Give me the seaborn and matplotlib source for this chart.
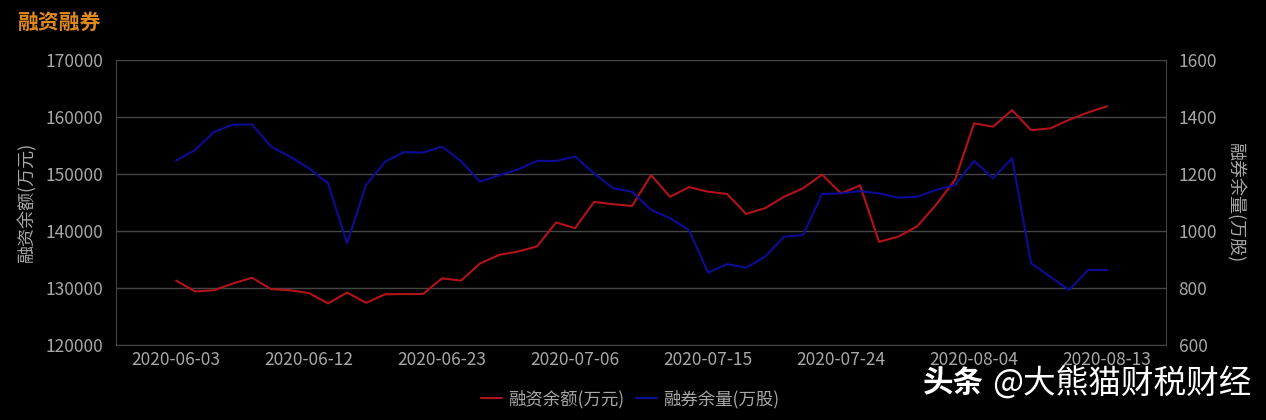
import pandas as pd
import numpy as np
import seaborn as sns
import matplotlib.pyplot as plt
from matplotlib.lines import Line2D

# trading days shown on the category axis
dates = ["2020-06-03", "2020-06-04", "2020-06-05", "2020-06-08", "2020-06-09",
         "2020-06-10", "2020-06-11", "2020-06-12", "2020-06-15", "2020-06-16",
         "2020-06-17", "2020-06-18", "2020-06-19", "2020-06-22", "2020-06-23",
         "2020-06-24", "2020-06-29", "2020-06-30", "2020-07-01", "2020-07-02",
         "2020-07-03", "2020-07-06", "2020-07-07", "2020-07-08", "2020-07-09",
         "2020-07-10", "2020-07-13", "2020-07-14", "2020-07-15", "2020-07-16",
         "2020-07-17", "2020-07-20", "2020-07-21", "2020-07-22", "2020-07-23",
         "2020-07-24", "2020-07-27", "2020-07-28", "2020-07-29", "2020-07-30",
         "2020-07-31", "2020-08-03", "2020-08-04", "2020-08-05", "2020-08-06",
         "2020-08-07", "2020-08-10", "2020-08-11", "2020-08-12", "2020-08-13"]

# 融资余额 (万元), left axis
rzye = [131300, 129400, 129600, 130800, 131800, 129800, 129600, 129100, 127300, 129200,
        127400, 128900, 128950, 128950, 131700, 131300, 134300, 135800, 136400, 137300,
        141500, 140500, 145100, 144700, 144400, 149800, 146000, 147700, 146900, 146500,
        143000, 144000, 146000, 147500, 149900, 146600, 148000, 138100, 139000, 140800,
        144600, 149000, 158900, 158300, 161200, 157700, 158000, 159500, 160800, 161900]

# 融券余量 (万股), right axis
rqyl = [1247, 1284, 1348, 1373, 1374, 1296, 1261, 1220, 1167, 957,
        1161, 1243, 1277, 1275, 1296, 1245, 1173, 1196, 1216, 1246,
        1246, 1261, 1202, 1150, 1138, 1074, 1045, 1003, 854, 884,
        871, 910, 980, 986, 1130, 1132, 1140, 1132, 1117, 1120,
        1144, 1161, 1246, 1185, 1255, 887, 840, 793, 863, 863]

df = pd.DataFrame({"idx": np.arange(len(dates)), "date": dates,
                   "rzye": rzye, "rqyl": rqyl})

sns.set_style("dark")
plt.rcParams['font.family'] = ['Noto Sans CJK SC', 'DejaVu Sans']

bg = "black"
gridc = "#454545"
txtc = "#a8a8a8"
red = "#b3121a"
blue = "#0c0c96"

fig = plt.figure(figsize=(12.66, 4.2), dpi=100, facecolor=bg)
ax = fig.add_axes([116/1266, 1 - 345/420, 1050/1266, 285/420])
ax.set_facecolor(bg)
ax2 = ax.twinx()

sns.lineplot(data=df, x="idx", y="rzye", ax=ax, color=red, linewidth=1.5, legend=False)
sns.lineplot(data=df, x="idx", y="rqyl", ax=ax2, color=blue, linewidth=1.5, legend=False)

ax.set_xlim(-3.16, 52.1)
ax.set_ylim(120000, 170000)
ax2.set_ylim(600, 1600)
ax.set_yticks(np.arange(120000, 170001, 10000))
ax2.set_yticks(np.arange(600, 1601, 200))
tick_pos = list(range(0, len(dates), 7))
ax.set_xticks(tick_pos)
ax.set_xticklabels([dates[i] for i in tick_pos])

ax.grid(axis="y", color=gridc, linewidth=1)
ax.grid(axis="x", visible=False)
ax2.grid(False)

for a in (ax, ax2):
    for s in a.spines.values():
        s.set_visible(False)
    a.tick_params(colors=txtc, labelsize=12.5, length=0, pad=9)
ax.tick_params(axis="x", pad=4)
ax.spines["left"].set_visible(True)
ax.spines["left"].set_color(gridc)
ax2.spines["right"].set_visible(True)
ax2.spines["right"].set_color(gridc)
ax.spines["bottom"].set_visible(True)
ax.spines["bottom"].set_color(gridc)

ax.set_xlabel("")
ax.set_ylabel("融资余额(万元)", color=txtc, fontsize=13, va="center")
ax.yaxis.set_label_coords(-89/1050, 0.5)
ax2.set_ylabel("融券余量(万股)", color=txtc, fontsize=13, rotation=270, va="center")
ax2.yaxis.set_label_coords(1 + 69/1050, 0.5)

fig.text(17/1266, 1 - 22/420, "融资融券", color="#e08a1e", fontsize=15,
         fontweight="bold", va="center", ha="left")

# legend below the plot
handles = [Line2D([], [], color=red, linewidth=1.5),
           Line2D([], [], color=blue, linewidth=1.5)]
fig.legend(handles, ["融资余额(万元)", "融券余量(万股)"], loc="center",
           bbox_to_anchor=(630/1266, 1 - 399/420), ncol=2, frameon=False,
           fontsize=12.5, labelcolor=txtc, handlelength=1.2, handletextpad=0.35,
           columnspacing=0.7)

# watermark
fig.text(923/1266, 1 - 383/420, "头条", color="white",
         fontsize=22, fontweight="bold", ha="left", va="center")
fig.text(1251/1266, 1 - 383/420, "@大熊猫财税财经", color="white",
         fontsize=23.5, ha="right", va="center")

fig.savefig("out.png", dpi=100, facecolor=bg)
